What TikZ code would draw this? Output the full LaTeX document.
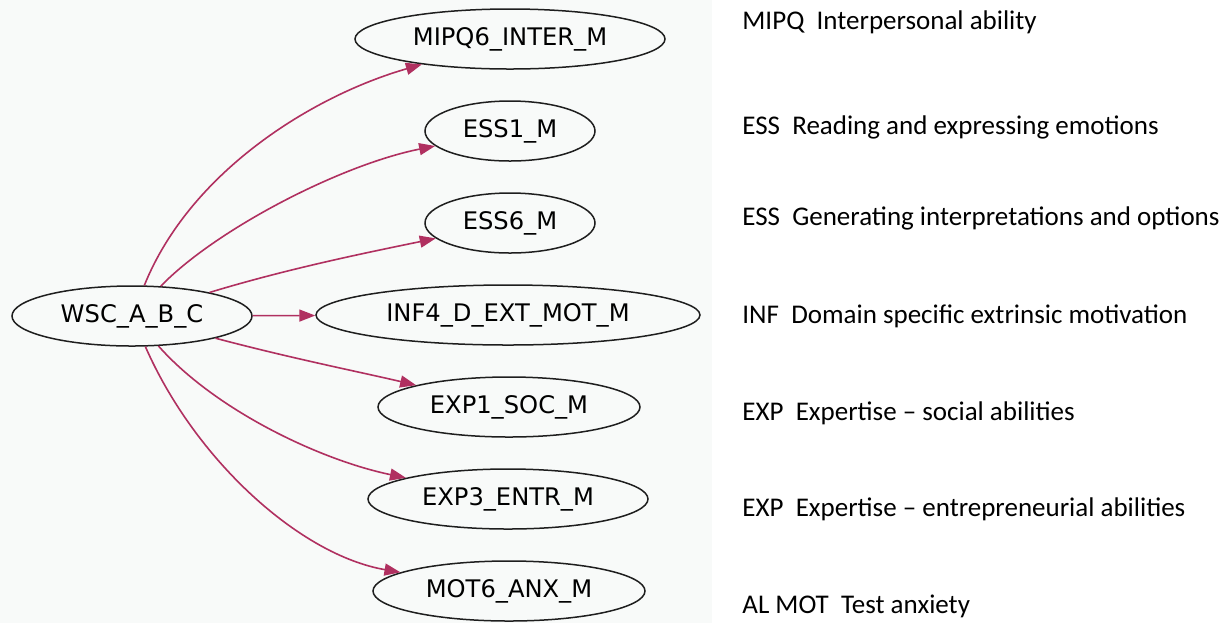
\documentclass[tikz,border=0pt]{standalone}
\usepackage{fontspec}
\setmainfont{DejaVu Sans}
\newfontfamily\legendfont{Carlito}
\usetikzlibrary{shapes.geometric,arrows.meta}
\definecolor{edgecol}{RGB}{176,48,96}
\definecolor{graphbg}{RGB}{248,250,249}
\definecolor{nodeline}{RGB}{30,30,30}
\tikzset{
  var/.style={ellipse, draw=nodeline, line width=0.75pt, inner sep=0pt,
    minimum height=30pt, font=\fontsize{12.1}{14}\selectfont},
  edge/.style={draw=edgecol, line width=0.8pt,
    -{Triangle[length=8pt,width=6pt]}},
  legend/.style={anchor=west, inner sep=0pt, font=\legendfont\fontsize{13.5}{16}\selectfont}
}
\begin{document}
\begin{tikzpicture}[x=0.5pt,y=-0.5pt]
\useasboundingbox (0,0) rectangle (1220,623);
\fill[white] (0,0) rectangle (1220,623);
\fill[graphbg] (0,0) rectangle (712,623);
% nodes
\node[var, minimum width=120pt] (wsc) at (132,316) {WSC\_A\_B\_C};
\node[var, minimum width=155pt] (mipq) at (510,39) {MIPQ6\_INTER\_M};
\node[var, minimum width=85pt] (ess1) at (510,131) {ESS1\_M};
\node[var, minimum width=85pt] (ess6) at (510,223) {ESS6\_M};
\node[var, minimum width=192pt] (inf) at (508,315) {INF4\_D\_EXT\_MOT\_M};
\node[var, minimum width=131pt] (exp1) at (509,407) {EXP1\_SOC\_M};
\node[var, minimum width=140pt] (exp3) at (508,499) {EXP3\_ENTR\_M};
\node[var, minimum width=136pt] (mot) at (509,591) {MOT6\_ANX\_M};
% edges
\draw[edge] (wsc) .. controls (190,172) and (312,96) .. (mipq);
\draw[edge] (wsc) .. controls (215,230) and (340,165) .. (ess1);
\draw[edge] (wsc) .. controls (290,268) and (370,252) .. (ess6);
\draw[edge] (wsc) -- (inf);
\draw[edge] (wsc) .. controls (290,358) and (360,372) .. (exp1);
\draw[edge] (wsc) .. controls (215,410) and (320,460) .. (exp3);
\draw[edge] (wsc) .. controls (195,460) and (300,555) .. (mot);
% legend
\node[legend] (l1) at (742,22) {MIPQ\ \ Interpersonal ability};
\node[legend] (l2) at (742,127) {ESS\ \ Reading and expressing emotions};
\node[legend] (l3) at (742,218) {ESS\ \ Generating interpretations and options};
\node[legend] (l4) at (742,316) {INF\ \ Domain specific extrinsic motivation};
\node[legend] (l5) at (742,413) {EXP\ \ Expertise – social abilities};
\node[legend] (l6) at (742,509) {EXP\ \ Expertise – entrepreneurial abilities};
\node[legend] (l7) at (742,606) {AL MOT\ \ Test anxiety};
\end{tikzpicture}
\end{document}
